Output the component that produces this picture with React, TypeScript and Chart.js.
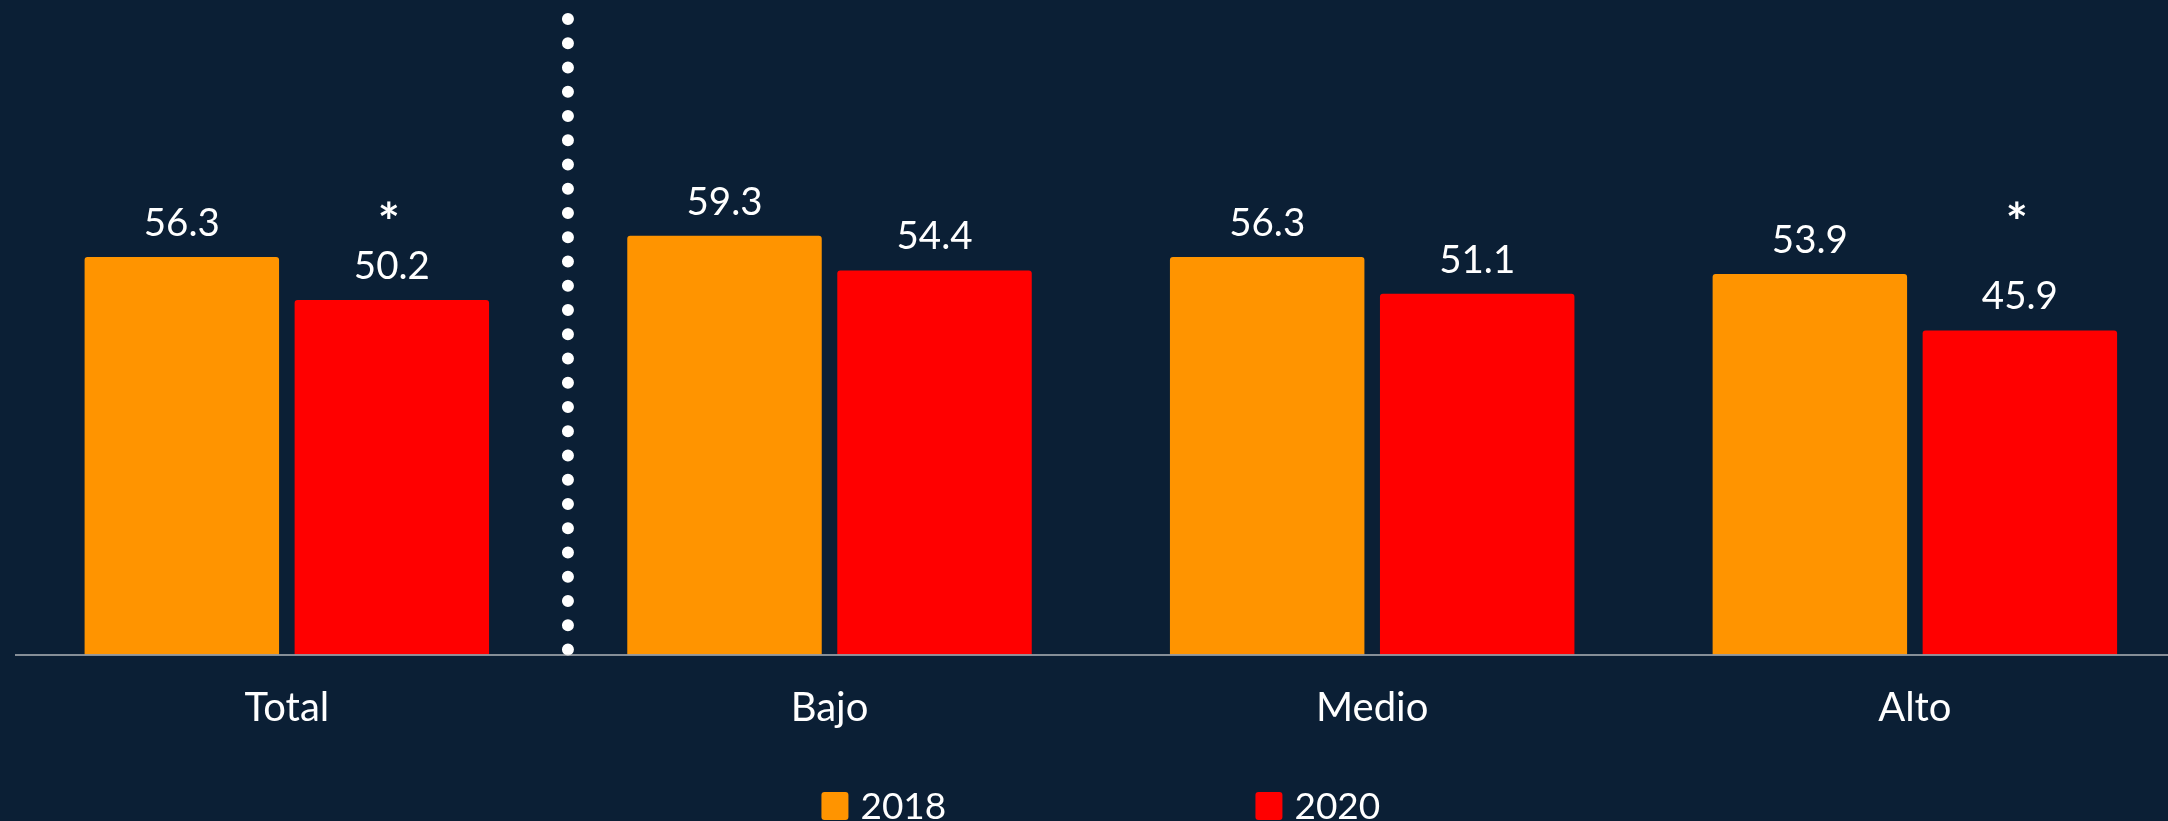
import React, { useEffect, useRef } from "react";
import { Chart, registerables } from "chart.js";

Chart.register(...registerables);

const categories = ["Total", "Bajo", "Medio", "Alto"];
const series2018 = [56.3, 59.3, 56.3, 53.9];
const series2020 = [50.2, 54.4, 51.1, 45.9];
const significant2020 = [true, false, false, true];
const seriesLabels = ["2018", "2020"];
const seriesColors = ["#ff9400", "#ff0000"];
const yMin = 0;
const yMax = 90;
const asteriskValue = 58.5;
const separatorPosition = 0.518;

const BG = "#0b1f35";
const FONT = "Lato, 'Open Sans', sans-serif";
const FONT_SIZE = 37;
const VALUE_FONT_SIZE = 38.5;
const TICK_FONT_SIZE = 40;
const VIEW_W = 2168;
const CANVAS_W = 2187;
const CANVAS_H = 821;

const overlayPlugin = {
  id: "overlay",
  afterDatasetsDraw(chart: any) {
    const ctx = chart.ctx as CanvasRenderingContext2D;
    const xs = chart.scales.x;
    const ys = chart.scales.y;
    const area = chart.chartArea;
    ctx.save();

    // dotted separator
    const sx = xs.getPixelForValue(separatorPosition);
    ctx.strokeStyle = "#ffffff";
    ctx.lineWidth = 12;
    ctx.lineCap = "round";
    ctx.setLineDash([0, 24.25]);
    ctx.beginPath();
    ctx.moveTo(sx, area.top);
    ctx.lineTo(sx, area.bottom);
    ctx.stroke();
    ctx.setLineDash([]);

    // value labels
    ctx.fillStyle = "#ffffff";
    ctx.font = `${VALUE_FONT_SIZE}px ${FONT}`;
    ctx.textAlign = "center";
    ctx.textBaseline = "alphabetic";
    chart.data.datasets.forEach((ds: any, di: number) => {
      const meta = chart.getDatasetMeta(di);
      meta.data.forEach((bar: any, i: number) => {
        ctx.fillText(Number(ds.data[i]).toFixed(1), bar.x, bar.y - 21);
      });
    });

    // significance asterisks
    const meta2 = chart.getDatasetMeta(1);
    ctx.font = `bold 52px ${FONT}`;
    significant2020.forEach((s, i) => {
      if (s) ctx.fillText("*", meta2.data[i].x - 3, ys.getPixelForValue(asteriskValue));
    });

    // legend
    ctx.font = `${FONT_SIZE}px ${FONT}`;
    ctx.textAlign = "left";
    const boxW = 27;
    const boxH = 28;
    const gap = 12;
    const step = 434;
    const lastW = ctx.measureText(seriesLabels[seriesLabels.length - 1]).width;
    const total = step * (seriesLabels.length - 1) + boxW + gap + lastW;
    const cx = (area.left + area.right) / 2;
    const boxTop = chart.height - 29;
    seriesLabels.forEach((lab, i) => {
      const lx = cx - total / 2 + i * step;
      ctx.fillStyle = seriesColors[i];
      ctx.beginPath();
      (ctx as any).roundRect(lx, boxTop, boxW, boxH, 3);
      ctx.fill();
      ctx.fillStyle = "#ffffff";
      ctx.fillText(lab, lx + boxW + gap, chart.height - 2);
    });

    ctx.restore();
  },
};

export default function App() {
  const ref = useRef<HTMLCanvasElement | null>(null);

  useEffect(() => {
    document.body.style.margin = "0";
    document.body.style.background = BG;
    document.body.style.overflow = "hidden";
    if (!ref.current) return;
    const chart = new Chart(ref.current, {
      type: "bar",
      data: {
        labels: categories,
        datasets: [
          {
            label: seriesLabels[0],
            data: series2018,
            backgroundColor: seriesColors[0],
            borderRadius: 3,
            categoryPercentage: 0.774,
            barPercentage: 0.926,
          },
          {
            label: seriesLabels[1],
            data: series2020,
            backgroundColor: seriesColors[1],
            borderRadius: 3,
            categoryPercentage: 0.774,
            barPercentage: 0.926,
          },
        ],
      },
      options: {
        responsive: false,
        devicePixelRatio: 1,
        animation: false,
        layout: { padding: { left: 15.5, right: 0.8, top: 19, bottom: 0 } },
        plugins: {
          legend: { display: false },
          tooltip: { enabled: false },
        },
        scales: {
          x: {
            grid: { display: false, drawTicks: false },
            border: { display: true, color: "rgba(217,217,217,0.6)", width: 2, z: 1 },
            ticks: {
              color: "#ffffff",
              font: { family: FONT, size: TICK_FONT_SIZE },
              padding: 30,
            },
            afterFit: (scale: any) => {
              scale.height = 166.5;
            },
          },
          y: {
            display: false,
            min: yMin,
            max: yMax,
            grid: { display: false },
          },
        },
      },
      plugins: [overlayPlugin],
    });
    return () => chart.destroy();
  }, []);

  return (
    <div style={{ width: VIEW_W, height: CANVAS_H, background: BG, overflow: "hidden" }}>
      <canvas ref={ref} width={CANVAS_W} height={CANVAS_H} style={{ display: "block" }} />
    </div>
  );
}
